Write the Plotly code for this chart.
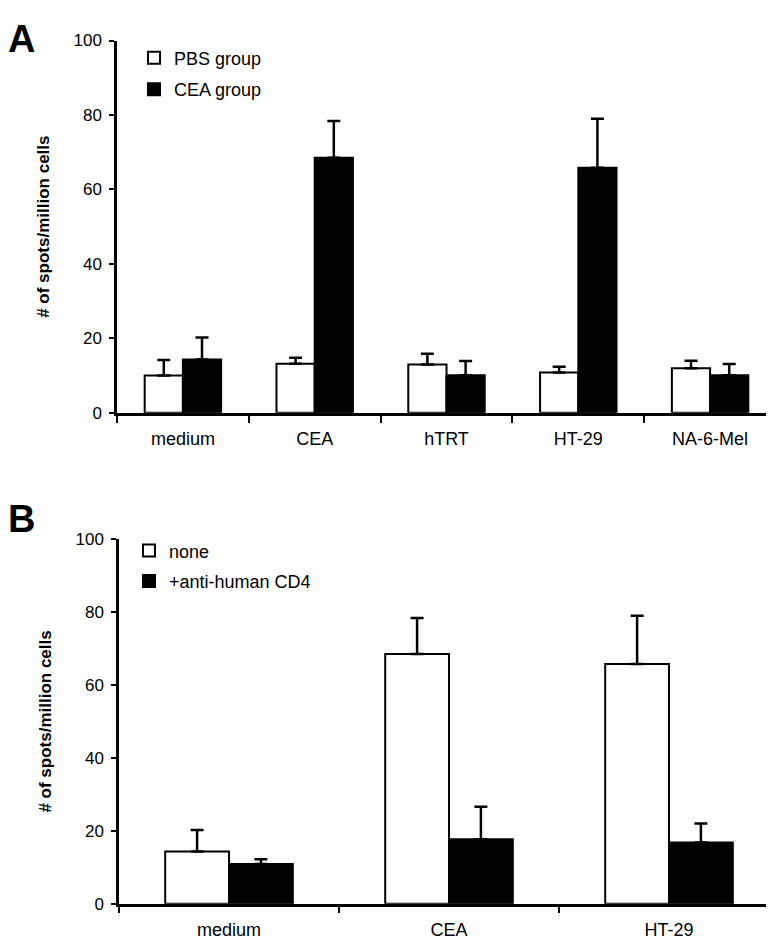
import plotly.graph_objects as go

# Panel A data
cats_a = ["medium", "CEA", "hTRT", "HT-29", "NA-6-Mel"]
pbs_vals = [10.0, 13.2, 13.0, 10.8, 12.0]
pbs_err = [4.2, 1.6, 2.9, 1.6, 2.0]
cea_vals = [14.3, 68.5, 10.1, 65.8, 10.1]
cea_err = [5.9, 9.9, 3.8, 13.2, 3.0]

# Panel B data
cats_b = ["medium", "CEA", "HT-29"]
none_vals = [14.3, 68.5, 65.8]
none_err = [5.9, 9.9, 13.2]
cd4_vals = [10.9, 17.7, 16.8]
cd4_err = [1.3, 8.9, 5.2]

yticks = [0, 20, 40, 60, 80, 100]
FONT = "Liberation Sans, Arial, sans-serif"

W, H = 774, 940


def fx(px):
    return px / W


def fy(px):
    return 1 - px / H


def bar(x, y, err, name, fill, xa, ya, legend, group):
    return go.Bar(
        x=x, y=y, name=name, xaxis=xa, yaxis=ya, legend=legend, legendgroup=group,
        marker=dict(color=fill, line=dict(color="black", width=2)),
        error_y=dict(type="data", symmetric=False, array=err, arrayminus=[0] * len(err),
                     color="black", thickness=2.5, width=6.5),
    )


fig = go.Figure()
fig.add_trace(bar(cats_a, pbs_vals, pbs_err, "PBS group", "white", "x", "y", "legend", "a1"))
fig.add_trace(bar(cats_a, cea_vals, cea_err, "CEA group", "black", "x", "y", "legend", "a2"))
fig.add_trace(bar(cats_b, none_vals, none_err, "none", "white", "x2", "y2", "legend2", "b1"))
fig.add_trace(bar(cats_b, cd4_vals, cd4_err, "+anti-human CD4", "black", "x2", "y2", "legend2", "b2"))

xcommon = dict(showline=True, linecolor="black", linewidth=2.5, ticks="outside", ticklen=7,
               tickwidth=2, tickcolor="black", tickson="boundaries", showgrid=False,
               ticklabelstandoff=8,
               tickfont=dict(family=FONT, size=18, color="black"), zeroline=False)
ycommon = dict(showline=True, linecolor="black", linewidth=2.5, ticks="outside", ticklen=5,
               tickwidth=2, tickcolor="black", showgrid=False, range=[0, 100],
               tickvals=yticks, ticktext=[str(v) for v in yticks], zeroline=False,
               ticklabelstandoff=4,
               tickfont=dict(family=FONT, size=17, color="black"),
               title=dict(text="<b># of spots/million cells</b>", standoff=20,
                          font=dict(family=FONT, size=17, color="black")))

fig.update_layout(
    width=W, height=H,
    margin=dict(l=0, r=0, t=0, b=0),
    plot_bgcolor="white", paper_bgcolor="white",
    barmode="group", bargap=0.42, bargroupgap=0,
    xaxis=dict(domain=[fx(109), fx(768)], anchor="y", **xcommon),
    yaxis=dict(domain=[fy(404), fy(24)], anchor="x", **ycommon),
    xaxis2=dict(domain=[fx(111), fx(771)], anchor="y2", **xcommon),
    yaxis2=dict(domain=[fy(905), fy(533)], anchor="x2", **ycommon),
    legend=dict(x=fx(126), y=fy(23), xanchor="left", yanchor="top", tracegroupgap=5,
                font=dict(family=FONT, size=18, color="black"), bgcolor="rgba(0,0,0,0)"),
    legend2=dict(x=fx(121), y=fy(526), xanchor="left", yanchor="top", tracegroupgap=4,
                 font=dict(family=FONT, size=18, color="black"), bgcolor="rgba(0,0,0,0)"),
    showlegend=True,
)

fig.add_annotation(text="<b>A</b>", xref="paper", yref="paper", x=fx(-2), y=fy(-1),
                   xanchor="left", yanchor="top", showarrow=False,
                   font=dict(family=FONT, size=38, color="black"))
fig.add_annotation(text="<b>B</b>", xref="paper", yref="paper", x=fx(-2), y=fy(489),
                   xanchor="left", yanchor="top", showarrow=False,
                   font=dict(family=FONT, size=38, color="black"))

fig.write_html("out.html")
